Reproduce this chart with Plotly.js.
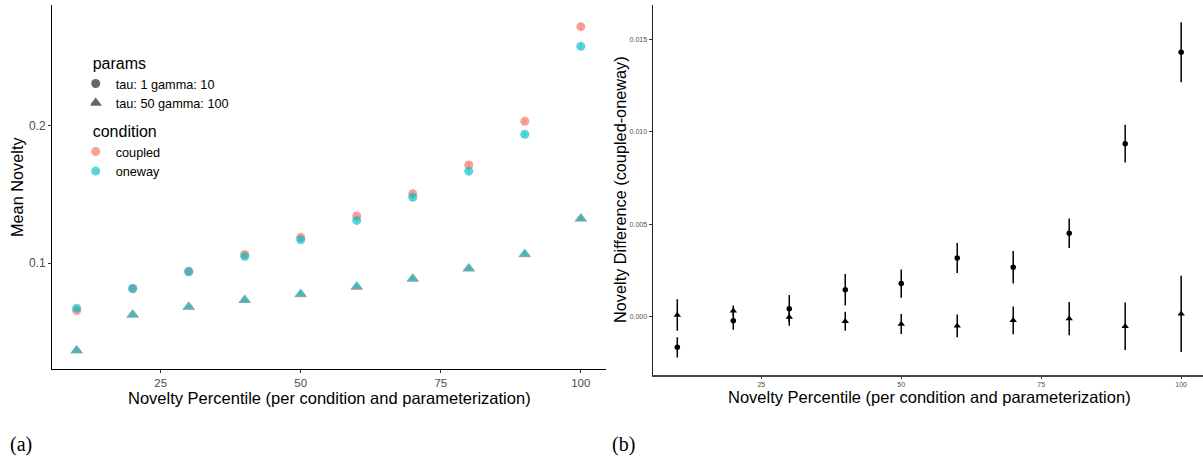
<!DOCTYPE html>
<html>
<head>
<meta charset="utf-8">
<script src="https://cdn.plot.ly/plotly-3.0.1.min.js"></script>
<style>html,body{margin:0;padding:0;background:#fff}#chart{width:1203px;height:461px}</style>
</head>
<body>
<div id="chart"></div>
<script>
// ---- data ----
const percentiles = [10, 20, 30, 40, 50, 60, 70, 80, 90, 100];

// Panel (a): mean novelty
const coupledTau1   = [0.0655, 0.0814, 0.0942, 0.1064, 0.1189, 0.1344, 0.1507, 0.1716, 0.2034, 0.2723];
const onewayTau1    = [0.0672, 0.0816, 0.0938, 0.1050, 0.1171, 0.1312, 0.1480, 0.1671, 0.1940, 0.2580];
const coupledTau50  = [0.0365, 0.0626, 0.0682, 0.0730, 0.0772, 0.0825, 0.0886, 0.0960, 0.1063, 0.1326];
const onewayTau50   = [0.0364, 0.0623, 0.0682, 0.0733, 0.0776, 0.0830, 0.0888, 0.0961, 0.1068, 0.1325];
const seTau1        = [0.0010, 0.0010, 0.0012, 0.0012, 0.0013, 0.0014, 0.0015, 0.0016, 0.0018, 0.0024];
const seTau50       = [0.0005, 0.0004, 0.0005, 0.0005, 0.0005, 0.0006, 0.0006, 0.0007, 0.0008, 0.0012];

// Panel (b): difference coupled - oneway, with error half-widths
const diffTau1      = [-0.00167, -0.00023, 0.00042, 0.00145, 0.00178, 0.00317, 0.00267, 0.00451, 0.00936, 0.01431];
const diffTau1Err   = [0.00055, 0.00049, 0.00074, 0.00085, 0.00076, 0.00081, 0.00088, 0.00080, 0.00102, 0.00163];
const diffTau50     = [0.00008, 0.00031, -0.00003, -0.00026, -0.00041, -0.00051, -0.00021, -0.00012, -0.00053, 0.00014];
const diffTau50Err  = [0.00085, 0.00029, 0.00047, 0.00051, 0.00054, 0.00062, 0.00075, 0.00090, 0.00128, 0.00207];

const paramLabels = ['tau: 1 gamma: 10', 'tau: 50 gamma: 100'];
const conditionLabels = ['coupled', 'oneway'];
const yTicksA = [0.1, 0.2];
const yTickTextA = ['0.1', '0.2'];
const xTicks = [25, 50, 75, 100];
const yTicksB = [0, 0.005, 0.010, 0.015];
const yTickTextB = ['0.000', '0.005', '0.010', '0.015'];

// ---- styles ----
const RED = 'rgba(248,118,109,0.7)';
const CYAN = 'rgba(0,191,196,0.65)';
const GREY = 'rgba(51,51,51,0.75)';
const FONT = 'Liberation Sans, Arial, sans-serif';

function ptsA(y, err, color, symbol, size) {
  return {
    type: 'scatter', mode: 'markers', x: percentiles, y: y,
    xaxis: 'x', yaxis: 'y', showlegend: false, hoverinfo: 'x+y',
    marker: {color: color, symbol: symbol, size: size, line: {width: 0}},
    error_y: {type: 'data', array: err, visible: true, color: color, thickness: 1, width: 0}
  };
}
function ptsB(y, err, symbol, size) {
  return {
    type: 'scatter', mode: 'markers', x: percentiles, y: y,
    xaxis: 'x2', yaxis: 'y2', showlegend: false,
    marker: {color: '#000', symbol: symbol, size: size, line: {width: 0}},
    error_y: {type: 'data', array: err, visible: true, color: '#000', thickness: 1.5, width: 0}
  };
}
function legendEntry(name, color, symbol, size, legend) {
  return {
    type: 'scatter', mode: 'markers', x: [null], y: [null], xaxis: 'x', yaxis: 'y',
    name: name, legend: legend, showlegend: true,
    marker: {color: color, symbol: symbol, size: size, line: {width: 0}}
  };
}

const traces = [
  ptsA(coupledTau1, seTau1, RED, 'circle', 9),
  ptsA(coupledTau50, seTau50, RED, 'triangle-up', 11),
  ptsA(onewayTau1, seTau1, CYAN, 'circle', 9),
  ptsA(onewayTau50, seTau50, CYAN, 'triangle-up', 11),
  ptsB(diffTau1, diffTau1Err, 'circle', 5.5),
  ptsB(diffTau50, diffTau50Err, 'triangle-up', 6.5),
  legendEntry(paramLabels[0], GREY, 'circle', 9, 'legend'),
  legendEntry(paramLabels[1], GREY, 'triangle-up', 11, 'legend'),
  legendEntry(conditionLabels[0], RED, 'circle', 9, 'legend2'),
  legendEntry(conditionLabels[1], CYAN, 'circle', 9, 'legend2')
];

const W = 1203, H = 461;
const px = v => v / W;
const py = v => 1 - v / H;

const axisCommon = {
  showgrid: false, zeroline: false, showline: true, linecolor: '#000', linewidth: 1,
  ticks: 'outside', ticklen: 3, tickcolor: '#333', tickwidth: 1, fixedrange: true
};

function label(text, x, y, size, angle, family) {
  return {text: text, xref: 'paper', yref: 'paper', x: px(x), y: py(y),
    xanchor: 'center', yanchor: 'middle', textangle: angle || 0, showarrow: false,
    font: {size: size, family: family || FONT, color: '#000'}};
}

const layout = {
  width: W, height: H,
  margin: {l: 0, r: 0, t: 0, b: 0},
  paper_bgcolor: '#fff', plot_bgcolor: '#fff',
  font: {family: FONT, color: '#000'},
  xaxis: Object.assign({}, axisCommon, {
    domain: [px(52), px(606)], range: [5.59, 104.5], anchor: 'y',
    tickvals: xTicks, tickfont: {size: 11.5, color: '#4D4D4D', family: FONT}
  }),
  yaxis: Object.assign({}, axisCommon, {
    domain: [py(368.7), py(5)], range: [0.0232, 0.2881], anchor: 'x',
    tickvals: yTicksA, ticktext: yTickTextA, tickfont: {size: 12, color: '#4D4D4D', family: FONT}
  }),
  xaxis2: Object.assign({}, axisCommon, {
    domain: [px(652.5), 1], range: [5.57, 103.9], anchor: 'y2',
    linecolor: '#444', linewidth: 1.5, ticklen: 2,
    tickvals: xTicks, tickfont: {size: 7, color: '#4D4D4D', family: FONT}
  }),
  yaxis2: Object.assign({}, axisCommon, {
    domain: [py(375), py(5)], range: [-0.00317, 0.01687], anchor: 'x2',
    linecolor: '#222',
    tickvals: yTicksB, ticktext: yTickTextB, tickfont: {size: 7, color: '#4D4D4D', family: FONT}
  }),
  legend: {
    x: px(90.7), y: py(48), xanchor: 'left', yanchor: 'top',
    bgcolor: 'rgba(0,0,0,0)', borderwidth: 0, indentation: -15, tracegroupgap: 0,
    title: {text: 'params', font: {size: 16, family: FONT, color: '#000'}},
    font: {size: 12.7, family: FONT, color: '#000'}
  },
  legend2: {
    x: px(90.7), y: py(116), xanchor: 'left', yanchor: 'top',
    bgcolor: 'rgba(0,0,0,0)', borderwidth: 0, indentation: -15, tracegroupgap: 0,
    title: {text: 'condition', font: {size: 16, family: FONT, color: '#000'}},
    font: {size: 12.7, family: FONT, color: '#000'}
  },
  annotations: [
    label('Mean Novelty', 17, 187, 16.3, -90),
    label('Novelty Percentile (per condition and parameterization)', 329, 398, 16.5),
    label('Novelty Difference (coupled-oneway)', 620, 190, 16.3, -90),
    label('Novelty Percentile (per condition and parameterization)', 929, 397, 16.5),
    label('(a)', 20.5, 444, 20, 0, 'Liberation Serif, DejaVu Serif, serif'),
    label('(b)', 623, 444, 20, 0, 'Liberation Serif, DejaVu Serif, serif')
  ]
};

Plotly.newPlot('chart', traces, layout, {displayModeBar: false, staticPlot: true});
</script>
</body>
</html>
